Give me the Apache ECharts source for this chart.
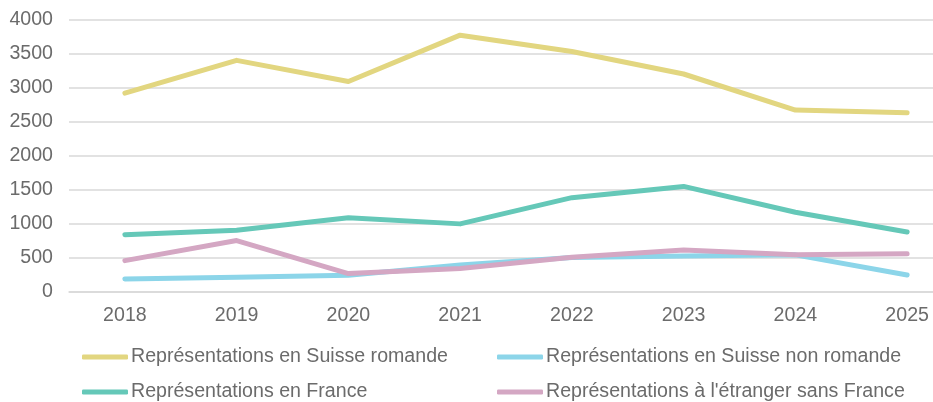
<!DOCTYPE html>
<html>
<head>
<meta charset="utf-8">
<script src="https://cdn.jsdelivr.net/npm/echarts@6/dist/echarts.min.js"></script>
<style>
  html, body { margin: 0; padding: 0; background: #fff; }
  #main { width: 933px; height: 402px; }
</style>
</head>
<body>
<div id="main"></div>
<script>
var years = ['2018', '2019', '2020', '2021', '2022', '2023', '2024', '2025']
var suisseRomande = [2920, 3400, 3090, 3770, 3530, 3200, 2670, 2630]
var suisseNonRomande = [190, 215, 245, 395, 505, 530, 545, 250]
var france = [840, 905, 1090, 1000, 1385, 1550, 1170, 880]
var etranger = [460, 755, 270, 345, 510, 615, 545, 560]
var names = [
  'Représentations en Suisse romande',
  'Représentations en Suisse non romande',
  'Représentations en France',
  "Représentations à l'étranger sans France"
]
var colors = ['#E2D680', '#8CD5E9', '#65C8B8', '#D4A7C3']

var myChart = echarts.init(document.getElementById('main'))

var textColor = '#6b6b6b'
var font = 'Liberation Sans, Arial, sans-serif'
var fs = 19.6

function line(name, data, color) {
  return {
    name: name,
    type: 'line',
    data: data,
    symbol: 'none',
    lineStyle: { color: color, width: 5, cap: 'round', join: 'round' },
    itemStyle: { color: color },
    animation: false
  }
}

// 一个图例只放一项，手动摆位置
function legendItem(name, left, top) {
  return {
    data: [name],
    left: left,
    top: top,
    itemWidth: 46,
    itemHeight: 5,
    itemGap: 0,
    icon: 'roundRect',
    textStyle: { color: textColor, fontSize: fs, fontFamily: font, padding: [0, 0, 0, -2] }
  }
}

var option = {
  grid: {
    left: 69,
    width: 894,
    top: 19.5,
    bottom: 110,
    outerBoundsMode: 'none'
  },
  legend: [
    legendItem(names[0], 77, 342),
    legendItem(names[1], 492, 342),
    legendItem(names[2], 77, 377),
    legendItem(names[3], 492, 377)
  ],
  xAxis: {
    type: 'category',
    data: years,
    boundaryGap: true,
    axisTick: { show: false },
    axisLine: { lineStyle: { color: '#d9d9d9', width: 1.5 } },
    axisLabel: { color: textColor, fontSize: fs, fontFamily: font, margin: 14 }
  },
  yAxis: {
    type: 'value',
    min: 0,
    max: 4000,
    interval: 500,
    axisLine: { show: false },
    axisTick: { show: false },
    axisLabel: {
      color: textColor, fontSize: fs, fontFamily: font, margin: 16,
      formatter: function (v) { return String(v) }
    },
    splitLine: { lineStyle: { color: '#d9d9d9', width: 1.5 } }
  },
  series: [
    line(names[0], suisseRomande, colors[0]),
    line(names[1], suisseNonRomande, colors[1]),
    line(names[2], france, colors[2]),
    line(names[3], etranger, colors[3])
  ]
}

myChart.setOption(option)
</script>
</body>
</html>
